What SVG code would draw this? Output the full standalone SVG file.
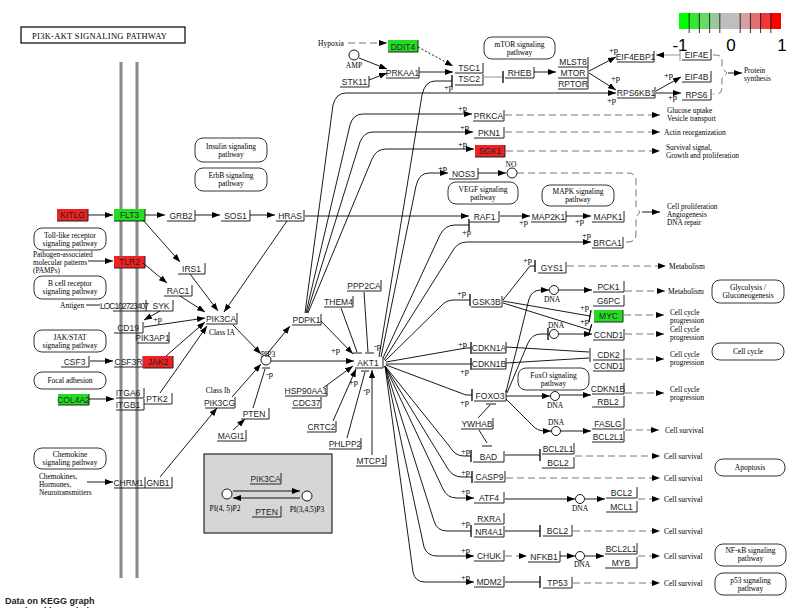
<svg xmlns="http://www.w3.org/2000/svg" width="797" height="608" viewBox="0 0 797 608">
<defs>
<marker id="a" viewBox="0 0 8 6" refX="8" refY="3" markerWidth="8" markerHeight="6" markerUnits="userSpaceOnUse" orient="auto"><path d="M0,0L8,3L0,6z" fill="#000"/></marker>
<marker id="b" viewBox="0 0 2 12" refX="1" refY="6" markerWidth="2" markerHeight="12" markerUnits="userSpaceOnUse" orient="auto"><path d="M1,0V12" stroke="#000" stroke-width="1.3"/></marker>
<style>
.g path{fill:none;stroke:#222;stroke-width:1}
.g text{font-family:"Liberation Sans",Arial,sans-serif;font-size:8.5px;fill:#222;text-anchor:middle}
.s{font-family:"Liberation Serif","Times New Roman",serif;font-size:7.5px;fill:#000}
.s7{font-size:7.3px}
.m{text-anchor:middle}
.pw rect{fill:#fff;stroke:#000;stroke-width:0.8}
.pw text{font-family:"Liberation Serif","Times New Roman",serif;font-size:7.5px;text-anchor:middle;fill:#000}
#connectors path{fill:none;stroke:#000;stroke-width:0.9}
#connectors .d{stroke:#666;stroke-dasharray:7 4}
#connectors .o{stroke-dasharray:2 2}
#connectors .gy{stroke:#888}
.A{marker-end:url(#a)}
.T{marker-end:url(#b)}
.pp{font-family:"Liberation Serif","Times New Roman",serif;font-size:8.5px;fill:#000}
.cp circle{fill:#fff;stroke:#000;stroke-width:0.9}
.mem{stroke:#8a8a8a;stroke-width:3}
</style>
</defs>
<rect width="797" height="608" fill="#fff"/>

<g id="title"><rect x="21" y="27" width="164" height="16" fill="#fff" stroke="#000" stroke-width="1.2"/><text x="32" y="39" font-family="Liberation Serif, serif" font-size="8.5" textLength="135">PI3K-AKT SIGNALING PATHWAY</text></g>

<g id="membrane"><line class="mem" x1="121" y1="62" x2="121" y2="578"/><line class="mem" x1="137" y1="62" x2="137" y2="578"/></g>

<g id="legend">
<rect x="679" y="13" width="10.2" height="16" fill="#00ff00"/><rect x="689.2" y="13" width="10.2" height="16" fill="#33e633"/><rect x="699.4" y="13" width="10.2" height="16" fill="#66d966"/><rect x="709.6" y="13" width="10.2" height="16" fill="#99c899"/><rect x="719.8" y="13" width="10.2" height="16" fill="#bebebe"/><rect x="730" y="13" width="10.2" height="16" fill="#bebebe"/><rect x="740.2" y="13" width="10.2" height="16" fill="#d4a0a0"/><rect x="750.4" y="13" width="10.2" height="16" fill="#e27070"/><rect x="760.6" y="13" width="10.2" height="16" fill="#f03838"/><rect x="770.8" y="13" width="10.2" height="16" fill="#ff0000"/>
<path d="M689.2,13V33M699.4,13V33M709.6,13V33M719.8,13V33M740.2,13V33M750.4,13V33M760.6,13V33M770.8,13V33" stroke="#000" stroke-width="0.8"/>
<g font-family="Liberation Sans, Arial, sans-serif" font-size="17" text-anchor="middle"><text x="680" y="51">-1</text><text x="731" y="51">0</text><text x="782" y="51">1</text></g>
</g>

<g id="pathways" class="pw">
<g id="p-insulin"><rect x="195" y="138" width="72" height="24" rx="8"/><text x="231" y="149">Insulin signaling</text><text x="231" y="157">pathway</text></g>
<g id="p-erbb"><rect x="195" y="168" width="72" height="23" rx="8"/><text x="231" y="178">ErbB signaling</text><text x="231" y="186">pathway</text></g>
<g id="p-toll"><rect x="34" y="228" width="72" height="22" rx="8"/><text x="70" y="238">Toll-like receptor</text><text x="70" y="246">signaling pathway</text></g>
<g id="p-bcell"><rect x="34" y="276" width="72" height="23" rx="8"/><text x="70" y="286">B cell receptor</text><text x="70" y="294">signaling pathway</text></g>
<g id="p-jak"><rect x="34" y="330" width="72" height="22" rx="8"/><text x="70" y="340">JAK/STAT</text><text x="70" y="348">signaling pathway</text></g>
<g id="p-focal"><rect x="34" y="372" width="72" height="17" rx="8"/><text x="70" y="383">Focal adhesion</text></g>
<g id="p-chemokine"><rect x="34" y="448" width="72" height="21" rx="8"/><text x="70" y="457">Chemokine</text><text x="70" y="465">signaling pathway</text></g>
<g id="p-mtor"><rect x="484" y="37" width="71" height="22" rx="8"/><text x="519.5" y="47">mTOR signaling</text><text x="519.5" y="55">pathway</text></g>
<g id="p-vegf"><rect x="448" y="182" width="70" height="22" rx="8"/><text x="483" y="192">VEGF signaling</text><text x="483" y="200">pathway</text></g>
<g id="p-mapk"><rect x="542" y="185" width="72" height="21" rx="8"/><text x="578" y="194">MAPK signaling</text><text x="578" y="202">pathway</text></g>
<g id="p-glyco"><rect x="712" y="280" width="72" height="23" rx="8"/><text x="748" y="290">Glycolysis /</text><text x="748" y="298">Gluconeogenesis</text></g>
<g id="p-cellcycle"><rect x="712" y="343" width="72" height="17" rx="8"/><text x="748" y="354">Cell cycle</text></g>
<g id="p-foxo"><rect x="518" y="368" width="71" height="22" rx="8"/><text x="553.5" y="378">FoxO signaling</text><text x="553.5" y="386">pathway</text></g>
<g id="p-apoptosis"><rect x="715" y="459" width="70" height="17" rx="8"/><text x="750" y="470">Apoptosis</text></g>
<g id="p-nfkb"><rect x="715" y="544" width="71" height="22" rx="8"/><text x="750.5" y="553">NF-κB signaling</text><text x="750.5" y="561">pathway</text></g>
<g id="p-p53"><rect x="715" y="573" width="71" height="22" rx="8"/><text x="750.5" y="583">p53 signaling</text><text x="750.5" y="591">pathway</text></g>
</g>

<g id="greybox"><rect x="204" y="454" width="128" height="79" fill="#d6d6d6" stroke="#000" stroke-width="1"/></g>

<g id="genes">
<g id="KITLG" class="g"><rect x="57" y="209" width="31" height="12" fill="#ee2222"/><path d="M57,221H88V209"/><text x="72.5" y="218">KITLG</text></g>
<g id="FLT3" class="g"><rect x="114" y="209" width="31" height="12" fill="#22dd22"/><path d="M114,221H145V209"/><text x="129.5" y="218">FLT3</text></g>
<g id="GRB2" class="g"><path d="M167,221H195V210"/><text x="181" y="218.5">GRB2</text></g>
<g id="SOS1" class="g"><path d="M221,221H250V210"/><text x="235.5" y="218.5">SOS1</text></g>
<g id="HRAS" class="g"><path d="M276,221H304V210"/><text x="290" y="218.5">HRAS</text></g>
<g id="IRS1" class="g"><path d="M178,274H205V263"/><text x="191.5" y="271.5">IRS1</text></g>
<g id="TLR2" class="g"><rect x="114" y="256" width="31" height="12" fill="#ee2222"/><path d="M114,268H145V256"/><text x="129.5" y="265">TLR2</text></g>
<g id="RAC1" class="g"><path d="M164,296H192V285"/><text x="178" y="293.5">RAC1</text></g>
<g id="LOC102723407" class="g"><path d="M113,311H146V300"/><text x="124.5" y="308.5" textLength="49">LOC102723407</text></g>
<g id="SYK" class="g"><path d="M146,311H173V300"/><text x="161" y="308.5">SYK</text></g>
<g id="CD19" class="g"><path d="M114,333H143V322"/><text x="128" y="330.5">CD19</text></g>
<g id="PIK3AP1" class="g"><path d="M137,343H169V332"/><text x="152.5" y="340.5">PIK3AP1</text></g>
<g id="PIK3CA" class="g"><path d="M206,324H237V313"/><text x="221" y="321.5">PIK3CA</text></g>
<g id="CSF3" class="g"><path d="M61,367H89V356"/><text x="74.5" y="364.5">CSF3</text></g>
<g id="CSF3R" class="g"><path d="M114,367H143V356"/><text x="128.5" y="364.5">CSF3R</text></g>
<g id="JAK2" class="g"><rect x="143" y="356" width="30" height="12" fill="#ee2222"/><path d="M143,368H173V356"/><text x="158" y="365">JAK2</text></g>
<g id="COL4A2" class="g"><rect x="58" y="394" width="31" height="11" fill="#22dd22"/><path d="M58,405H89V394"/><text x="73.5" y="402.5">COL4A2</text></g>
<g id="ITGA6" class="g"><path d="M116,398H144V388"/><text x="128" y="396">ITGA6</text></g>
<g id="ITGB1" class="g"><path d="M116,410H144V399"/><text x="128" y="407.5">ITGB1</text></g>
<g id="PTK2" class="g"><path d="M144,404H172V393"/><text x="157" y="401.5">PTK2</text></g>
<g id="PIK3CG" class="g"><path d="M205,408H235V397"/><text x="219.5" y="405.5">PIK3CG</text></g>
<g id="PTEN" class="g"><path d="M241,419H269V408"/><text x="254" y="416.5">PTEN</text></g>
<g id="MAGI1" class="g"><path d="M217,441H246V430"/><text x="231" y="438.5">MAGI1</text></g>
<g id="CHRM1" class="g"><path d="M114,488H145V477"/><text x="128.5" y="485.5">CHRM1</text></g>
<g id="GNB1" class="g"><path d="M145,488H172V477"/><text x="158" y="485.5">GNB1</text></g>
<g id="PDPK1" class="g"><path d="M292,325H321V314"/><text x="306.5" y="322.5">PDPK1</text></g>
<g id="THEM4" class="g"><path d="M324,307H353V296"/><text x="338.5" y="304.5">THEM4</text></g>
<g id="PPP2CA" class="g"><path d="M347,291H381V280"/><text x="364" y="288.5">PPP2CA</text></g>
<g id="AKT1" class="g"><path d="M355,368H383V357"/><text x="368" y="365.5">AKT1</text></g>
<g id="HSP90AA1" class="g"><path d="M285,396H327V385"/><text x="306" y="393.5">HSP90AA1</text></g>
<g id="CDC37" class="g"><path d="M292,408H321V397"/><text x="306.5" y="405.5">CDC37</text></g>
<g id="CRTC2" class="g"><path d="M307,432H336V421"/><text x="321.5" y="429.5">CRTC2</text></g>
<g id="PHLPP2" class="g"><path d="M329,449H361V438"/><text x="345" y="446.5">PHLPP2</text></g>
<g id="MTCP1" class="g"><path d="M356,466H386V455"/><text x="371" y="463.5">MTCP1</text></g>
<g id="PIK3CA-2" class="g"><path d="M250,484H281V473"/><text x="265.5" y="481.5">PIK3CA</text></g>
<g id="PTEN-2" class="g"><path d="M252,517H281V506"/><text x="266.5" y="514.5">PTEN</text></g>
<g id="DDIT4" class="g"><rect x="388" y="40" width="30" height="12" fill="#22dd22"/><path d="M388,52H418V40"/><text x="403" y="49.5">DDIT4</text></g>
<g id="PRKAA1" class="g"><path d="M386,78H419V67"/><text x="402.5" y="75.5">PRKAA1</text></g>
<g id="STK11" class="g"><path d="M340,87H369V76"/><text x="354.5" y="84.5">STK11</text></g>
<g id="TSC1" class="g"><path d="M455,73H483V63"/><text x="469" y="71">TSC1</text></g>
<g id="TSC2" class="g"><path d="M455,85H483V74"/><text x="469" y="82">TSC2</text></g>
<g id="RHEB" class="g"><path d="M505,78H534V67"/><text x="519.5" y="75.5">RHEB</text></g>
<g id="MLST8" class="g"><path d="M558,67H588V57"/><text x="573" y="65">MLST8</text></g>
<g id="MTOR" class="g"><path d="M558,78H588V67"/><text x="573" y="75.5">MTOR</text></g>
<g id="RPTOR" class="g"><path d="M558,89H588V78"/><text x="573" y="86.5">RPTOR</text></g>
<g id="EIF4EBP1" class="g"><path d="M617,62H654V51"/><text x="635.5" y="59.5">EIF4EBP1</text></g>
<g id="EIF4E" class="g"><path d="M682,60H711V49"/><text x="696.5" y="57.5">EIF4E</text></g>
<g id="EIF4B" class="g"><path d="M682,82H711V71"/><text x="696.5" y="79.5">EIF4B</text></g>
<g id="RPS6KB1" class="g"><path d="M617,98H655V87"/><text x="636" y="95.5">RPS6KB1</text></g>
<g id="RPS6" class="g"><path d="M682,100H711V89"/><text x="696.5" y="97.5">RPS6</text></g>
<g id="PRKCA" class="g"><path d="M473,121H504V110"/><text x="488.5" y="118.5">PRKCA</text></g>
<g id="PKN1" class="g"><path d="M474,138H504V127"/><text x="489" y="135.5">PKN1</text></g>
<g id="SGK1" class="g"><rect x="475" y="145" width="30" height="12" fill="#ee2222"/><path d="M475,157H505V145"/><text x="490" y="154">SGK1</text></g>
<g id="NOS3" class="g"><path d="M449,179H478V168"/><text x="463.5" y="176.5">NOS3</text></g>
<g id="RAF1" class="g"><path d="M470,222H499V211"/><text x="484.5" y="219.5">RAF1</text></g>
<g id="MAP2K1" class="g"><path d="M531,222H566V211"/><text x="548.5" y="219.5">MAP2K1</text></g>
<g id="MAPK1" class="g"><path d="M592,222H624V211"/><text x="608" y="219.5">MAPK1</text></g>
<g id="BRCA1" class="g"><path d="M592,248H623V237"/><text x="607.5" y="245.5">BRCA1</text></g>
<g id="GYS1" class="g"><path d="M538,273H566V262"/><text x="552" y="270.5">GYS1</text></g>
<g id="GSK3B" class="g"><path d="M471,307H502V296"/><text x="486.5" y="304.5">GSK3B</text></g>
<g id="PCK1" class="g"><path d="M593,292H624V281"/><text x="608.5" y="289.5">PCK1</text></g>
<g id="G6PC" class="g"><path d="M593,306H624V295"/><text x="608.5" y="303.5">G6PC</text></g>
<g id="MYC" class="g"><rect x="594" y="310" width="29" height="12" fill="#22dd22"/><path d="M594,322H623V310"/><text x="608.5" y="319">MYC</text></g>
<g id="CCND1" class="g"><path d="M593,340H624V329"/><text x="608.5" y="337.5">CCND1</text></g>
<g id="CDKN1A" class="g"><path d="M472,353H506V342"/><text x="489" y="350.5">CDKN1A</text></g>
<g id="CDKN1B" class="g"><path d="M472,369H506V358"/><text x="489" y="366.5">CDKN1B</text></g>
<g id="CDK2" class="g"><path d="M593,360H624V349"/><text x="608.5" y="357.5">CDK2</text></g>
<g id="CCND1-2" class="g"><path d="M593,371H624V360"/><text x="608.5" y="368.5">CCND1</text></g>
<g id="CDKN1B-2" class="g"><path d="M592,394H624V383"/><text x="608" y="391.5">CDKN1B</text></g>
<g id="RBL2" class="g"><path d="M592,407H624V396"/><text x="608" y="404.5">RBL2</text></g>
<g id="FOXO3" class="g"><path d="M474,401H506V390"/><text x="490" y="398.5">FOXO3</text></g>
<g id="YWHAB" class="g"><path d="M461,429H493V418"/><text x="477" y="426.5">YWHAB</text></g>
<g id="FASLG" class="g"><path d="M592,429H624V418"/><text x="608" y="426.5">FASLG</text></g>
<g id="BCL2L1-1" class="g"><path d="M592,442H624V431"/><text x="608" y="439.5">BCL2L1</text></g>
<g id="BAD" class="g"><path d="M473,462H504V451"/><text x="488.5" y="459.5">BAD</text></g>
<g id="BCL2L1-2" class="g"><path d="M542,454H574V443"/><text x="558" y="451.5">BCL2L1</text></g>
<g id="BCL2-1" class="g"><path d="M542,468H574V457"/><text x="558" y="465.5">BCL2</text></g>
<g id="CASP9" class="g"><path d="M474,482H505V471"/><text x="489.5" y="479.5">CASP9</text></g>
<g id="ATF4" class="g"><path d="M474,503H504V492"/><text x="489" y="500.5">ATF4</text></g>
<g id="BCL2-2" class="g"><path d="M606,498H637V487"/><text x="621.5" y="495.5">BCL2</text></g>
<g id="MCL1" class="g"><path d="M606,512H637V501"/><text x="621.5" y="509.5">MCL1</text></g>
<g id="RXRA" class="g"><path d="M474,524H504V513"/><text x="489" y="521.5">RXRA</text></g>
<g id="NR4A1" class="g"><path d="M474,537H504V526"/><text x="489" y="534.5">NR4A1</text></g>
<g id="BCL2-3" class="g"><path d="M543,536H572V525"/><text x="557.5" y="533.5">BCL2</text></g>
<g id="CHUK" class="g"><path d="M474,561H504V550"/><text x="489" y="558.5">CHUK</text></g>
<g id="NFKB1" class="g"><path d="M528,562H560V551"/><text x="544" y="559.5">NFKB1</text></g>
<g id="BCL2L1-3" class="g"><path d="M605,554H637V543"/><text x="621" y="551.5">BCL2L1</text></g>
<g id="MYB" class="g"><path d="M605,568H637V557"/><text x="621" y="565.5">MYB</text></g>
<g id="MDM2" class="g"><path d="M474,587H504V576"/><text x="489" y="584.5">MDM2</text></g>
<g id="TP53" class="g"><path d="M543,588H572V577"/><text x="557.5" y="585.5">TP53</text></g>
</g>

<g id="compounds" class="cp">
<g id="c-AMP"><circle cx="354" cy="55" r="5"/><text class="s m" x="354" y="68">AMP</text></g>
<g id="c-NO"><circle cx="512" cy="173" r="5"/><text class="s m" x="511" y="167">NO</text></g>
<g id="c-PIP3"><circle cx="266" cy="360" r="5"/><text class="s m" x="268" y="357">PIP3</text></g>
<g id="c-PIP2"><circle cx="227" cy="494" r="5"/><text class="s m" x="225" y="511">PI(4, 5)P2</text></g>
<g id="c-PIP3b"><circle cx="307" cy="496" r="5"/><text class="s m" x="307" y="512">PI(3,4,5)P3</text></g>
<g id="c-DNA1"><circle cx="554" cy="290" r="4.5"/><text class="s m" x="552" y="302">DNA</text></g>
<g id="c-DNA2"><circle cx="554" cy="334" r="4.5"/><text class="s m" x="556" y="328">DNA</text></g>
<g id="c-DNA3"><circle cx="555" cy="396" r="4.5"/><text class="s m" x="555" y="408">DNA</text></g>
<g id="c-DNA4"><circle cx="556" cy="431" r="4.5"/><text class="s m" x="556" y="425">DNA</text></g>
<g id="c-DNA5"><circle cx="580" cy="499" r="4.5"/><text class="s m" x="580" y="511">DNA</text></g>
<g id="c-DNA6"><circle cx="580" cy="556" r="4.5"/><text class="s m" x="582" y="567">DNA</text></g>
</g>

<g id="connectors">
<path class="A" d="M88,215H113"/>
<path class="A" d="M145,215H165"/>
<path class="A" d="M195,215H220"/>
<path class="A" d="M250,215H275"/>
<path class="A" d="M287,221L224,312"/>
<path class="A" d="M143,220L180,262"/>
<path class="A" d="M190,274L218,311"/>
<path class="A" d="M88,261H113"/>
<path class="A" d="M143,263L167,283"/>
<path class="A" d="M180,296L205,312"/>
<path d="M86,305H100"/>
<path class="A" d="M160,311L144,320"/>
<path class="A" d="M144,327L205,318"/>
<path class="A" d="M90,361H113"/>
<path class="A" d="M166,356L205,322"/>
<path class="A" d="M89,399H114"/>
<path class="A" d="M160,393L207,326"/>
<path class="A" d="M87,482H113"/>
<path class="A" d="M160,477L217,408"/>
<path class="A" d="M233,325L261,354"/>
<path class="A" d="M232,397L261,364"/>
<path d="M253,408L265,369M262,368H270"/>
<path class="A" d="M233,430L245,419"/>
<path class="A" d="M267,354L290,326"/>
<path class="A" d="M271,361H354"/>
<path class="A" d="M321,321L353,354"/>
<path d="M341,308L357,352M353,353H362"/>
<path d="M364,292L368,352M365,353H374"/>
<path class="A" d="M323,388L353,366"/>
<path class="A" d="M333,421L356,369"/>
<path d="M347,438L365,372M361,371H369"/>
<path class="A" d="M372,455V370"/>
<path class="A" d="M305,313L333,105Q336,93 346,93H616"/>
<path class="A" d="M306,313L350,125Q353,114 363,114H472"/>
<path class="A" d="M307,313L360,142Q364,132 373,132H473"/>
<path class="A" d="M308,313L372,159Q376,149 386,149H474"/>
<path class="T" d="M379,357L422,95Q425,81 435,81H452"/>
<path class="A" d="M381,357L416,186Q419,173 429,173H448"/>
<path class="T" d="M383,358L440,235Q445,225 455,225H469"/>
<path class="A" d="M384,360L452,252Q457,242 467,242H591"/>
<path class="T" d="M385,361L441,306Q446,300 454,300H470"/>
<path class="T" d="M386,362L466,348H471"/>
<path class="T" d="M386,364H471"/>
<path class="T" d="M386,365L466,395H472"/>
<path class="T" d="M385,366L450,447Q455,456 464,456H471"/>
<path class="T" d="M385,366L448,469Q453,477 462,477H472"/>
<path class="A" d="M385,366L443,489Q447,498 457,498H474"/>
<path class="T" d="M385,366L434,521Q437,531 447,531H471"/>
<path class="A" d="M385,366L424,547Q427,556 437,556H474"/>
<path class="A" d="M385,366L413,572Q415,582 425,582H474"/>
<path class="A d" d="M348,43H387"/>
<path class="A o" d="M418,47L453,66"/>
<path class="A" d="M359,58L387,69"/>
<path class="A" d="M369,80L387,73"/>
<path class="A" d="M419,72H453"/>
<path class="T gy" d="M484,77H503"/>
<path class="A" d="M534,72H556"/>
<path class="A" d="M589,71L616,57"/>
<path class="A" d="M589,73L616,90"/>
<path class="A gy" d="M680,55H656"/>
<path class="gy" d="M680,49V61"/>
<path class="A" d="M656,91L681,77"/>
<path class="A" d="M656,93H681"/>
<path class="d" d="M713,55H716Q722,55 722,61V68L727,73L722,78V88Q722,94 716,94H713"/>
<path class="A" d="M728,73H742"/>
<path class="A" d="M478,173H506"/>
<path class="d" d="M517,173H628Q636,173 636,181V207L640,212L636,217V234Q636,242 628,242H624"/>
<path class="A" d="M642,212H660"/>
<path class="A" d="M305,216H469"/>
<path class="A" d="M500,216H530"/>
<path class="A" d="M566,216H591"/>
<path class="A d" d="M505,115H660"/>
<path class="A d" d="M505,132H660"/>
<path class="A d" d="M506,151H660"/>
<path class="A d" d="M567,266H666"/>
<path class="T" d="M503,300L530,266H535"/>
<path class="T" d="M503,301L590,316"/>
<path class="T" d="M503,303L590,330"/>
<path class="A" d="M506,392L529,299Q532,290 541,290H549"/>
<path class="A" d="M559,290H592"/>
<path class="A d" d="M625,291H665"/>
<path class="A d" d="M624,315H664"/>
<path class="T" d="M507,393L528,343Q532,334 541,334H548"/>
<path class="A" d="M559,334H592"/>
<path class="A d" d="M625,334H664"/>
<path d="M506,347L589,352M506,363L589,358M590,348V362"/>
<path class="A d" d="M625,359H664"/>
<path class="A" d="M506,396H550"/>
<path class="A" d="M560,395H591"/>
<path class="A d" d="M625,393H664"/>
<path class="A" d="M506,399L532,425Q537,431 545,431H551"/>
<path class="A" d="M561,431H591"/>
<path class="A d" d="M625,430H659"/>
<path d="M478,418L490,405M486,404H496"/>
<path d="M479,430L487,443M482,446H492"/>
<path class="T" d="M505,455H540"/>
<path class="A d" d="M575,456H660"/>
<path class="A d" d="M506,478H660"/>
<path class="A" d="M505,499H575"/>
<path class="A" d="M585,499H605"/>
<path class="A d" d="M638,499H660"/>
<path class="T" d="M505,531H540"/>
<path class="A d" d="M573,531H660"/>
<path class="A d" d="M505,556H527"/>
<path class="A" d="M560,556H575"/>
<path class="A" d="M585,556H604"/>
<path class="A d" d="M638,556H660"/>
<path class="T" d="M505,582H540"/>
<path class="A d" d="M573,583H660"/>
<path class="A" d="M233,491H300"/>
<path class="A" d="M300,498H233"/>
</g>

<g id="labels">
<g class="pp">
<text x="458" y="111">+p</text><text x="460" y="130">+p</text><text x="458" y="147">+p</text><text x="438" y="171">+p</text><text x="444" y="90">+p</text>
<text x="609" y="53">+p</text><text x="611" y="81">+p</text><text x="607" y="103">+p</text><text x="664" y="78">+p</text><text x="668" y="100">+p</text>
<text x="462" y="235">+p</text><text x="519" y="225">+p</text><text x="575" y="224">+p</text><text x="582" y="238">+p</text><text x="523" y="263">+p</text>
<text x="457" y="296">+p</text><text x="580" y="310">+p</text><text x="580" y="324">+p</text><text x="458" y="347">+p</text><text x="460" y="374">+p</text>
<text x="460" y="405">+p</text><text x="461" y="454">+p</text><text x="461" y="475">+p</text><text x="461" y="494">+p</text><text x="461" y="526">+p</text>
<text x="461" y="553">+p</text><text x="461" y="580">+p</text><text x="331" y="353">+p</text><text x="349" y="385">+p</text><text x="153" y="322">+p</text>
<text x="374" y="349">-p</text><text x="363" y="393">-p</text><text x="266" y="377">-p</text>
</g>
<g class="s">
<text x="318" y="46">Hypoxia</text>
<g class="s7">
<text x="744" y="73">Protein</text><text x="744" y="81">synthesis</text>
<text x="667" y="113">Glucose uptake</text><text x="667" y="121">Vesicle transport</text>
<text x="666" y="150">Survival signal,</text><text x="666" y="158">Growth and proliferation</text>
<text x="667" y="209">Cell proliferation</text><text x="667" y="217">Angiogenesis</text><text x="667" y="225">DNA repair</text>
<text x="670" y="315">Cell cycle</text><text x="670" y="323">progression</text>
<text x="670" y="332">Cell cycle</text><text x="670" y="340">progression</text>
<text x="670" y="357">Cell cycle</text><text x="670" y="365">progression</text>
<text x="670" y="392">Cell cycle</text><text x="670" y="400">progression</text>
<text x="33" y="257">Pathogen-associated</text><text x="33" y="265">molecular patterns</text><text x="33" y="273">(PAMPs)</text>
<text x="39" y="479">Chemokines,</text><text x="39" y="487">Hormones,</text><text x="39" y="495">Neurotransmitters</text>
</g>
<text x="664" y="135">Actin reorganization</text>
<text x="669" y="269">Metabolism</text>
<text x="668" y="294">Metabolism</text>
<text x="665" y="433">Cell survival</text>
<text x="664" y="459">Cell survival</text>
<text x="664" y="481">Cell survival</text>
<text x="664" y="502">Cell survival</text>
<text x="664" y="534">Cell survival</text>
<text x="664" y="559">Cell survival</text>
<text x="664" y="586">Cell survival</text>
<text x="60" y="308">Antigen</text>
<text class="m" x="222" y="335">Class IA</text>
<text class="m" x="218" y="393">Class Ib</text>
</g>
</g>

<g id="footer" font-family="Liberation Sans, Arial, sans-serif" font-size="9" font-weight="bold" fill="#222"><text x="5" y="604">Data on KEGG graph</text><text x="5" y="614">Rendered by Pathview</text></g>
</svg>
